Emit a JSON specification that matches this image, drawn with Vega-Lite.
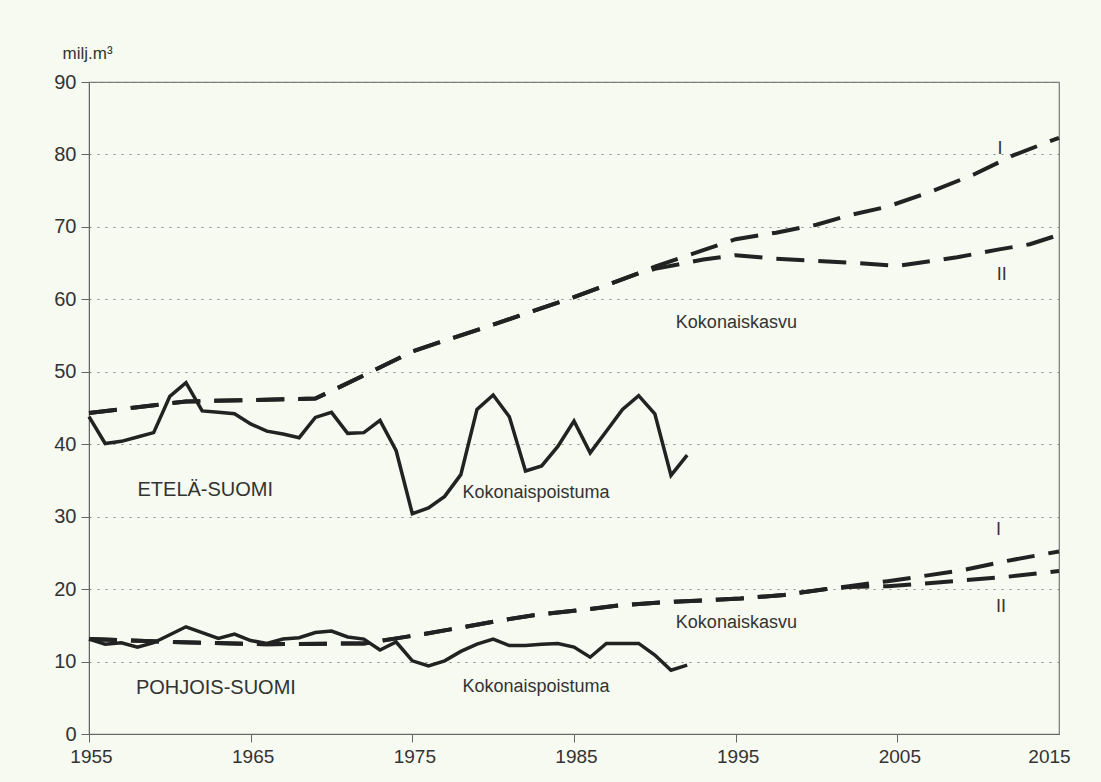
{
  "$schema": "https://vega.github.io/schema/vega-lite/v6.json",
  "width": 970,
  "height": 652,
  "autosize": {"type": "none"},
  "padding": {"left": 89, "top": 82, "right": 42, "bottom": 48},
  "background": "#f6faf0",
  "config": {
    "font": "Liberation Sans",
    "view": {"stroke": "#777", "strokeWidth": 1.2}
  },
  "datasets": {
    "poist": [
      {"series": "E", "year": 1955, "value": 43.8},
      {"series": "E", "year": 1956, "value": 40.1},
      {"series": "E", "year": 1957, "value": 40.4},
      {"series": "E", "year": 1958, "value": 41.0},
      {"series": "E", "year": 1959, "value": 41.6},
      {"series": "E", "year": 1960, "value": 46.6},
      {"series": "E", "year": 1961, "value": 48.5},
      {"series": "E", "year": 1962, "value": 44.6},
      {"series": "E", "year": 1963, "value": 44.4},
      {"series": "E", "year": 1964, "value": 44.2},
      {"series": "E", "year": 1965, "value": 42.8},
      {"series": "E", "year": 1966, "value": 41.8},
      {"series": "E", "year": 1967, "value": 41.4},
      {"series": "E", "year": 1968, "value": 40.9},
      {"series": "E", "year": 1969, "value": 43.7},
      {"series": "E", "year": 1970, "value": 44.4},
      {"series": "E", "year": 1971, "value": 41.5},
      {"series": "E", "year": 1972, "value": 41.6},
      {"series": "E", "year": 1973, "value": 43.3},
      {"series": "E", "year": 1974, "value": 39.1},
      {"series": "E", "year": 1975, "value": 30.4},
      {"series": "E", "year": 1976, "value": 31.2},
      {"series": "E", "year": 1977, "value": 32.8},
      {"series": "E", "year": 1978, "value": 35.8},
      {"series": "E", "year": 1979, "value": 44.8},
      {"series": "E", "year": 1980, "value": 46.8},
      {"series": "E", "year": 1981, "value": 43.8},
      {"series": "E", "year": 1982, "value": 36.3},
      {"series": "E", "year": 1983, "value": 37.0},
      {"series": "E", "year": 1984, "value": 39.7},
      {"series": "E", "year": 1985, "value": 43.2},
      {"series": "E", "year": 1986, "value": 38.8},
      {"series": "E", "year": 1987, "value": 41.8},
      {"series": "E", "year": 1988, "value": 44.8},
      {"series": "E", "year": 1989, "value": 46.7},
      {"series": "E", "year": 1990, "value": 44.2},
      {"series": "E", "year": 1991, "value": 35.7},
      {"series": "E", "year": 1992, "value": 38.5},
      {"series": "P", "year": 1955, "value": 13.1},
      {"series": "P", "year": 1956, "value": 12.4},
      {"series": "P", "year": 1957, "value": 12.6},
      {"series": "P", "year": 1958, "value": 12.0},
      {"series": "P", "year": 1959, "value": 12.6},
      {"series": "P", "year": 1960, "value": 13.7},
      {"series": "P", "year": 1961, "value": 14.8},
      {"series": "P", "year": 1962, "value": 14.0},
      {"series": "P", "year": 1963, "value": 13.2},
      {"series": "P", "year": 1964, "value": 13.8},
      {"series": "P", "year": 1965, "value": 12.9},
      {"series": "P", "year": 1966, "value": 12.5},
      {"series": "P", "year": 1967, "value": 13.1},
      {"series": "P", "year": 1968, "value": 13.3},
      {"series": "P", "year": 1969, "value": 14.0},
      {"series": "P", "year": 1970, "value": 14.2},
      {"series": "P", "year": 1971, "value": 13.4},
      {"series": "P", "year": 1972, "value": 13.1},
      {"series": "P", "year": 1973, "value": 11.6},
      {"series": "P", "year": 1974, "value": 12.7},
      {"series": "P", "year": 1975, "value": 10.1},
      {"series": "P", "year": 1976, "value": 9.4},
      {"series": "P", "year": 1977, "value": 10.1},
      {"series": "P", "year": 1978, "value": 11.4},
      {"series": "P", "year": 1979, "value": 12.4},
      {"series": "P", "year": 1980, "value": 13.1},
      {"series": "P", "year": 1981, "value": 12.2},
      {"series": "P", "year": 1982, "value": 12.2},
      {"series": "P", "year": 1983, "value": 12.4},
      {"series": "P", "year": 1984, "value": 12.5},
      {"series": "P", "year": 1985, "value": 12.0},
      {"series": "P", "year": 1986, "value": 10.6},
      {"series": "P", "year": 1987, "value": 12.5},
      {"series": "P", "year": 1988, "value": 12.5},
      {"series": "P", "year": 1989, "value": 12.5},
      {"series": "P", "year": 1990, "value": 10.9},
      {"series": "P", "year": 1991, "value": 8.8},
      {"series": "P", "year": 1992, "value": 9.5}
    ],
    "kasvu": [
      {"series": "E-I", "year": 1955, "value": 44.3},
      {"series": "E-I", "year": 1961, "value": 45.9},
      {"series": "E-I", "year": 1969, "value": 46.3},
      {"series": "E-I", "year": 1972, "value": 49.5},
      {"series": "E-I", "year": 1975, "value": 52.8},
      {"series": "E-I", "year": 1977, "value": 54.3},
      {"series": "E-I", "year": 1980, "value": 56.5},
      {"series": "E-I", "year": 1983, "value": 58.8},
      {"series": "E-I", "year": 1985, "value": 60.3},
      {"series": "E-I", "year": 1989, "value": 63.6},
      {"series": "E-I", "year": 1990, "value": 64.5},
      {"series": "E-I", "year": 1993, "value": 66.8},
      {"series": "E-I", "year": 1995, "value": 68.3},
      {"series": "E-I", "year": 1997.5, "value": 69.2},
      {"series": "E-I", "year": 2000, "value": 70.3},
      {"series": "E-I", "year": 2002, "value": 71.6},
      {"series": "E-I", "year": 2004.4, "value": 72.8},
      {"series": "E-I", "year": 2007, "value": 74.8},
      {"series": "E-I", "year": 2009.7, "value": 77.2},
      {"series": "E-I", "year": 2012.2, "value": 79.9},
      {"series": "E-I", "year": 2015, "value": 82.3},
      {"series": "E-II", "year": 1955, "value": 44.3},
      {"series": "E-II", "year": 1961, "value": 45.9},
      {"series": "E-II", "year": 1969, "value": 46.3},
      {"series": "E-II", "year": 1972, "value": 49.5},
      {"series": "E-II", "year": 1975, "value": 52.8},
      {"series": "E-II", "year": 1977, "value": 54.3},
      {"series": "E-II", "year": 1980, "value": 56.5},
      {"series": "E-II", "year": 1983, "value": 58.8},
      {"series": "E-II", "year": 1985, "value": 60.3},
      {"series": "E-II", "year": 1989, "value": 63.6},
      {"series": "E-II", "year": 1990, "value": 64.2},
      {"series": "E-II", "year": 1993, "value": 65.5},
      {"series": "E-II", "year": 1995, "value": 66.1},
      {"series": "E-II", "year": 1997.5, "value": 65.6},
      {"series": "E-II", "year": 2000, "value": 65.3},
      {"series": "E-II", "year": 2002.5, "value": 65.0},
      {"series": "E-II", "year": 2005, "value": 64.6},
      {"series": "E-II", "year": 2008.7, "value": 65.8},
      {"series": "E-II", "year": 2011.3, "value": 66.9},
      {"series": "E-II", "year": 2013.2, "value": 67.6},
      {"series": "E-II", "year": 2015, "value": 68.9},
      {"series": "P-I", "year": 1955, "value": 13.1},
      {"series": "P-I", "year": 1960, "value": 12.7},
      {"series": "P-I", "year": 1966, "value": 12.4},
      {"series": "P-I", "year": 1972, "value": 12.5},
      {"series": "P-I", "year": 1974, "value": 13.2},
      {"series": "P-I", "year": 1976, "value": 13.9},
      {"series": "P-I", "year": 1980, "value": 15.5},
      {"series": "P-I", "year": 1982.5, "value": 16.4},
      {"series": "P-I", "year": 1985.4, "value": 17.1},
      {"series": "P-I", "year": 1988, "value": 17.8},
      {"series": "P-I", "year": 1990.7, "value": 18.2},
      {"series": "P-I", "year": 1993.5, "value": 18.5},
      {"series": "P-I", "year": 1995.3, "value": 18.7},
      {"series": "P-I", "year": 1998, "value": 19.2},
      {"series": "P-I", "year": 2000.6, "value": 20.0},
      {"series": "P-I", "year": 2002, "value": 20.4},
      {"series": "P-I", "year": 2004.4, "value": 21.1},
      {"series": "P-I", "year": 2006.3, "value": 21.7},
      {"series": "P-I", "year": 2009, "value": 22.6},
      {"series": "P-I", "year": 2011.8, "value": 23.9},
      {"series": "P-I", "year": 2015, "value": 25.2},
      {"series": "P-II", "year": 1955, "value": 13.1},
      {"series": "P-II", "year": 1960, "value": 12.7},
      {"series": "P-II", "year": 1966, "value": 12.4},
      {"series": "P-II", "year": 1972, "value": 12.5},
      {"series": "P-II", "year": 1974, "value": 13.2},
      {"series": "P-II", "year": 1976, "value": 13.9},
      {"series": "P-II", "year": 1980, "value": 15.5},
      {"series": "P-II", "year": 1982.5, "value": 16.4},
      {"series": "P-II", "year": 1985.4, "value": 17.1},
      {"series": "P-II", "year": 1988, "value": 17.8},
      {"series": "P-II", "year": 1990.7, "value": 18.2},
      {"series": "P-II", "year": 1993.5, "value": 18.5},
      {"series": "P-II", "year": 1995.3, "value": 18.7},
      {"series": "P-II", "year": 1998, "value": 19.2},
      {"series": "P-II", "year": 2000.6, "value": 20.0},
      {"series": "P-II", "year": 2002, "value": 20.3},
      {"series": "P-II", "year": 2004.4, "value": 20.4},
      {"series": "P-II", "year": 2006.3, "value": 20.7},
      {"series": "P-II", "year": 2009, "value": 21.2},
      {"series": "P-II", "year": 2011.8, "value": 21.7},
      {"series": "P-II", "year": 2015, "value": 22.5}
    ],
    "labels": [
      {"label": "ETELÄ-SUOMI", "kind": "region", "year": 1958.0, "value": 33.7},
      {"label": "Kokonaispoistuma", "kind": "note", "year": 1978.1, "value": 33.2},
      {"label": "Kokonaiskasvu", "kind": "note", "year": 1991.3, "value": 56.7},
      {"label": "I", "kind": "note", "year": 2011.2, "value": 80.8},
      {"label": "II", "kind": "note", "year": 2011.15, "value": 63.3},
      {"label": "POHJOIS-SUOMI", "kind": "region", "year": 1957.9, "value": 6.3},
      {"label": "Kokonaispoistuma", "kind": "note", "year": 1978.1, "value": 6.5},
      {"label": "Kokonaiskasvu", "kind": "note", "year": 1991.3, "value": 15.3},
      {"label": "I", "kind": "note", "year": 2011.1, "value": 28.1},
      {"label": "II", "kind": "note", "year": 2011.1, "value": 17.5}
    ]
  },
  "encoding": {
    "x": {
      "field": "year",
      "type": "quantitative",
      "scale": {"domain": [1955, 2015], "nice": false, "zero": false},
      "axis": {
        "values": [1955, 1965, 1975, 1985, 1995, 2005, 2015],
        "format": "d",
        "labelFlush": false,
        "grid": false,
        "title": null,
        "tickSize": 8,
        "labelPadding": 5,
        "labelOffset": {"expr": "datum.value == 2015 ? -10 : 2"},
        "tickOpacity": {"expr": "datum.value == 2015 ? 0 : 1"},
        "domainColor": "#666",
        "tickColor": "#666",
        "labelFontSize": 19,
        "labelColor": "#333"
      }
    },
    "y": {
      "field": "value",
      "type": "quantitative",
      "scale": {"domain": [0, 90], "nice": false},
      "axis": {
        "values": [0, 10, 20, 30, 40, 50, 60, 70, 80, 90],
        "grid": true,
        "gridDash": [2, 6],
        "gridColor": "#888",
        "gridWidth": 1,
        "tickSize": 8,
        "labelPadding": 5,
        "domainColor": "#666",
        "tickColor": "#666",
        "labelFontSize": 20,
        "labelColor": "#333",
        "title": "milj.m³",
        "titleAngle": 0,
        "titleAlign": "left",
        "titleBaseline": "alphabetic",
        "titleX": -27,
        "titleY": -24,
        "titleFontSize": 17,
        "titleFontWeight": "normal",
        "titleColor": "#333"
      }
    }
  },
  "layer": [
    {
      "data": {"name": "poist"},
      "mark": {"type": "line", "color": "#222", "strokeWidth": 3.5, "strokeJoin": "miter"},
      "encoding": {"detail": {"field": "series", "type": "nominal"}}
    },
    {
      "data": {"name": "kasvu"},
      "mark": {"type": "line", "color": "#222", "strokeWidth": 4, "strokeDash": [28, 14], "strokeCap": "butt"},
      "encoding": {"detail": {"field": "series", "type": "nominal"}}
    },
    {
      "data": {"name": "labels"},
      "transform": [{"filter": "datum.kind === 'note'"}],
      "mark": {"type": "text", "align": "left", "baseline": "middle", "fontSize": 18, "color": "#333"},
      "encoding": {"text": {"field": "label", "type": "nominal"}}
    },
    {
      "data": {"name": "labels"},
      "transform": [{"filter": "datum.kind === 'region'"}],
      "mark": {"type": "text", "align": "left", "baseline": "middle", "fontSize": 20, "color": "#333"},
      "encoding": {"text": {"field": "label", "type": "nominal"}}
    }
  ]
}
